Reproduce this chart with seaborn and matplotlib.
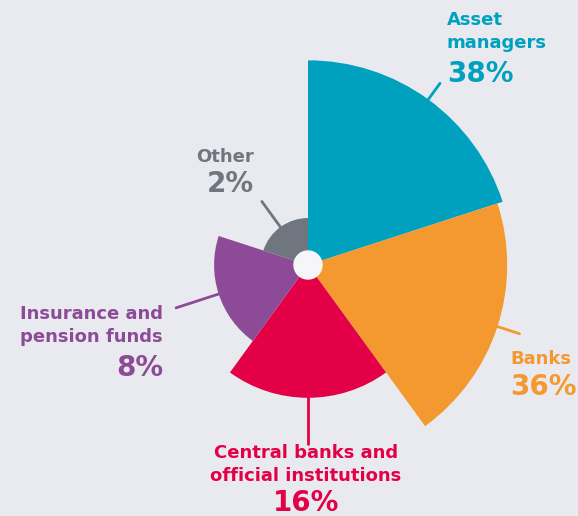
import numpy as np
import matplotlib
matplotlib.use("Agg")
import matplotlib.pyplot as plt
import seaborn as sns

# data
categories = ["Asset\nmanagers", "Banks", "Central banks and\nofficial institutions",
              "Insurance and\npension funds", "Other"]
shares = [38, 36, 16, 8, 2]
colors = ["#00A1BF", "#F4992F", "#E30046", "#8D4B97", "#6F7680"]

BG = "#E9EAEF"
W, H = 578, 516

sns.set_theme(style="white")
plt.rcParams["font.family"] = ["DejaVu Sans"]

fig = plt.figure(figsize=(W / 100, H / 100), dpi=100, facecolor=BG)

# polar axes centred at (308, 265) px, 33 px per sqrt-unit
cx, cy, scale, rmax = 308, 265, 33.2, 6.5
rpx = rmax * scale
ax = fig.add_axes([(cx - rpx) / W, (H - cy - rpx) / H, 2 * rpx / W, 2 * rpx / H],
                  projection="polar")
ax.set_facecolor("none")
ax.set_theta_zero_location("N")
ax.set_theta_direction(-1)

n = len(shares)
width = 2 * np.pi / n
theta = np.arange(n) * width + width / 2
radius = np.sqrt(shares)

ax.bar(theta, radius, width=width, bottom=0, color=colors, linewidth=0, align="center")
ax.set_ylim(0, rmax)
ax.set_xticks([])
ax.set_yticks([])
ax.grid(False)
ax.spines["polar"].set_visible(False)

# white hub
hub = np.linspace(0, 2 * np.pi, 100)
ax.fill(hub, np.full_like(hub, 14 / scale), color="#F6F6F8", zorder=5)

# leader lines
leader = [0.6, 0.7, 1.4, 1.35, 0.95]
for t, r, L, c in zip(theta, radius, leader, colors):
    ax.plot([t, t], [r - 0.05, r + L], color=c, lw=2, clip_on=False, zorder=4)


def fx(x):
    return x / W


def fy(y):
    return 1 - y / H


name_fs, pct_fs = 13, 20
# (name x, name top y, pct top y, ha)
pos = [
    (447, 11, 60, "left"),
    (510, 350, 373, "left"),
    (306, 444, 489, "center"),
    (163, 305, 354, "right"),
    (254, 148, 170, "right"),
]
for (x, yt, yp, ha), name, s, c in zip(pos, categories, shares, colors):
    fig.text(fx(x), fy(yt), name, ha=ha, va="top", color=c, fontsize=name_fs,
             fontweight="bold", linespacing=1.35, multialignment=ha)
    fig.text(fx(x), fy(yp), f"{s}%", ha=ha, va="top", color=c, fontsize=pct_fs,
             fontweight="bold")

fig.savefig("out.png", dpi=100, facecolor=BG)
